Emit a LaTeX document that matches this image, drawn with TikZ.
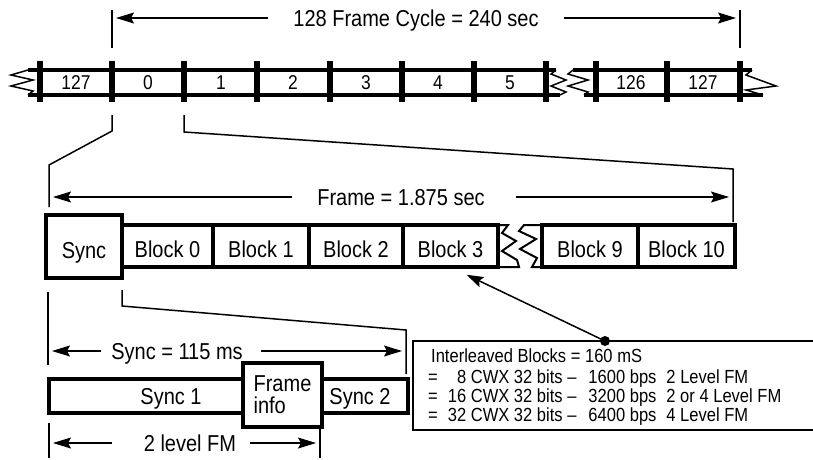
\documentclass[tikz,border=0pt]{standalone}
\usepackage{fontspec}
\setmainfont{Liberation Sans}[FakeStretch=0.87]
\usetikzlibrary{arrows.meta,positioning,calc}

\tikzset{
  rail/.style={line width=3.5pt},
  bar/.style={line width=5.5pt},
  zig/.style={line width=1.5pt,line join=miter},
  conn/.style={line width=1.5pt},
  tick/.style={line width=1.2pt},
  dim/.style={line width=1.2pt,-{Stealth[length=18pt,width=11pt,inset=3pt]},shorten >=4pt},
  ptr/.style={line width=1.5pt,-{Stealth[length=17pt,width=11pt,inset=3pt]}},
  dimlbl/.style={font=\fontsize{23}{26}\selectfont,inner sep=0pt,text height=16.5pt,text depth=0pt},
  lbl/.style={font=\fontsize{23}{26}\selectfont,inner sep=0pt,text height=16.5pt,text depth=0pt},
  num/.style={font=\fontsize{20}{24}\selectfont,inner sep=0pt},
  blk/.style={draw,line width=3.5pt,minimum height=42pt,inner sep=0pt,
    font=\fontsize{23}{26}\selectfont,text height=23pt,text depth=0pt},
}

\begin{document}
\begin{tikzpicture}[x=1pt,y=-1pt]
  \useasboundingbox (0,0) rectangle (813,459);

  % 128 frame cycle
  \node[dimlbl] (cyc) at (416,18) {128 Frame Cycle = 240 sec};
  \coordinate (cycL) at (112,18);
  \coordinate (cycR) at (740,18);
  \draw[tick] (112,10) -- (112,48);
  \draw[tick] (740,10) -- (740,48);
  \draw[dim] ([xshift=-25pt]cyc.west) -- (cycL);
  \draw[dim] ([xshift=25pt]cyc.east) -- (cycR);

  % Frame rails and breaks
  \draw[rail] (28,70) -- (556,70) (28,95) -- (560,95);
  \draw[rail] (573,70) -- (752,70) (584,95) -- (763,95);
  \draw[zig] (28,70) -- (11,75) -- (33,80) -- (11,86) -- (33,91) -- (28,95);
  \draw[zig] (556,70) -- (551,74) -- (566,80) -- (551,86) -- (566,92) -- (560,95);
  \draw[zig] (573,70) -- (568,74) -- (588,80) -- (568,86) -- (588,92) -- (584,95);
  \draw[zig] (752,70) -- (746,75) -- (776,86) -- (746,90) -- (763,95);
  \foreach \x/\n in {40/a,112/0,184/1,257/2,330/3,402/4,474/5,546/6,596/m,667/n,740/e}
    \draw[bar] (\x,61) -- (\x,102) coordinate (bar\n);
  \foreach \x/\t [count=\i] in {76/127,148/0,221/1,293/2,366/3,438/4,510/5,631/126,703/127}
    \node[num] (f\i) at (\x,83) {\t};

  % Zoom to one frame
  \draw[conn] ([yshift=-13pt]bar0) -- ++(0,16) -- (49,165) -- (49,207);
  \draw[conn] ([yshift=-13pt]bar1) -- ++(0,17) -- (733,169) -- (733,222);

  % Frame = 1.875 sec
  \node[dimlbl] (frm) at (401,197) {Frame = 1.875 sec};
  \coordinate (frmL) at (49,197);
  \coordinate (frmR) at (733,197);
  \draw[dim] ([xshift=-25pt]frm.west) -- (frmL);
  \draw[dim] ([xshift=31pt]frm.east) -- (frmR);

  % Blocks
  \node[blk,minimum width=91pt] (b0) at (167.5,246) {Block 0};
  \node[blk,minimum width=96pt] (b1) at (261,246) {Block 1};
  \node[blk,minimum width=94pt] (b2) at (356,246) {Block 2};
  \node[blk,minimum width=95pt] (b3) at (450.5,246) {Block 3};
  \node[blk,minimum width=96pt] (b9) at (590,246) {Block 9};
  \node[blk,minimum width=97pt] (b10) at (686.5,246) {Block 10};
  \draw[zig,line width=2pt] (498,225) -- (508,225) -- (502,233) -- (516,241) -- (502,251)
    -- (517,260) -- (519,267) -- (498,267);
  \draw[zig,line width=2pt] (542,225) -- (524,225) -- (519,231) -- (536,239) -- (520,249)
    -- (537,258) -- (532,267) -- (542,267);
  \node[blk,line width=4pt,fill=white,minimum width=76pt,minimum height=63pt] (sync) at (84,246.5) {Sync};

  % Zoom to sync
  \draw[conn] ([xshift=-2pt,yshift=-10pt]sync.south east) -- ++(0,16) -- (406,330) -- (406,374);
  \draw[tick] (48,292) -- (48,365);

  % Sync = 115 ms
  \node[dimlbl] (syn) at (177,351) {Sync = 115 ms};
  \coordinate (synL) at (48,351);
  \coordinate (synR) at (406,351);
  \draw[dim] ([xshift=-10pt]syn.west) -- (synL);
  \draw[dim] ([xshift=18pt]syn.east) -- (synR);

  % Sync word
  \node[draw,line width=3.5pt,minimum width=359pt,minimum height=34pt,inner sep=0pt] (sbar) at (228.5,396) {};
  \node[lbl] (s1) at (171,396) {Sync 1};
  \node[lbl] (s2) at (360,396) {Sync 2};
  \node[draw,fill=white,line width=4pt,minimum width=79pt,minimum height=64pt,inner sep=0pt,
    align=left,font=\fontsize{23}{22}\selectfont] (fi) at (282.5,395) {Frame\\info};

  % 2 level FM
  \draw[tick] (49,423) -- (49,458);
  \draw[tick] (320,428) -- (320,458);
  \node[dimlbl] (lvl) at (190,443) {2 level FM};
  \coordinate (lvlL) at (49,443);
  \coordinate (lvlR) at (320,443);
  \draw[dim] ([xshift=-32pt]lvl.west) -- (lvlL);
  \draw[dim] ([xshift=14pt]lvl.east) -- (lvlR);

  % Interleaved blocks
  \node[draw,line width=1.5pt,minimum width=401pt,minimum height=89pt,inner sep=0pt] (info) at (613.5,385.5) {};
  \node[anchor=north west,inner sep=0pt,font=\fontsize{19}{17}\selectfont] (infot) at (428,349) {%
    \begin{tabular}{@{}l@{\hspace{10pt}}r@{\ CWX 32 bits --\hspace{12pt}}l@{\ bps\hspace{10pt}}l@{}}
      \multicolumn{4}{@{\hspace{3pt}}l@{}}{Interleaved Blocks = 160 mS}\\[2pt]
      = & 8 & 1600 & 2 Level FM\\
      = & 16 & 3200 & 2 or 4 Level FM\\
      = & 32 & 6400 & 4 Level FM
    \end{tabular}};
  \coordinate (dot) at (605,341);
  \fill (dot) circle (5pt);
  \draw[ptr] (dot) -- ([xshift=16pt,yshift=-6pt]b3.south);
\end{tikzpicture}
\end{document}
